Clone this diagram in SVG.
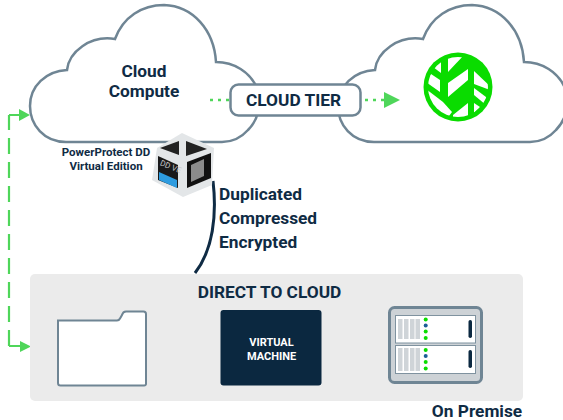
<svg xmlns="http://www.w3.org/2000/svg" width="563" height="420" viewBox="0 0 563 420">
<style>
text{font-family:Roboto,"Liberation Sans",sans-serif;font-weight:700;fill:#0f2b44}
.cloud{fill:#fff;stroke:#6f8594;stroke-width:2.5}
.g{fill:none;stroke:#4fd65a}
.gh{fill:#4fd65a}
.bar{fill:#cfd4d8}
.on{fill:#0adc00}
.bl{fill:#1d5d96}
.h{fill:#0b2840}
</style>
<defs>
<path id="c" d="M66,142 C44,142 30,125 30,106 C30,86 46,71 67,70 C69,52 90,35 115,39 C123,17 142,5 164,5 C193,6 214,30 216,62 C234,62 250,72 257,88 C262,105 258,120 248,130 C240,139 232,142 222,142 Z"/>
<clipPath id="lc"><circle cx="458" cy="87" r="30"/></clipPath>
</defs>
<g id="cloud-compute"><use href="#c" class="cloud"/>
<text x="144" y="77" font-size="17.300" text-anchor="middle">Cloud</text>
<text x="144" y="97" font-size="17.300" text-anchor="middle">Compute</text></g>
<g id="cloud-wasabi"><use href="#c" x="308" class="cloud"/>
<circle cx="458" cy="87" r="34.500" fill="#0adc00"/>
<g clip-path="url(#lc)" fill="#fff">
<path d="M433,63L441,60V73L433,67Z"/>
<path d="M448,55L464,55L448,72Z"/>
<path d="M428,72L440,80V92L426,82Z"/>
<path d="M448,83L468,69V80L448,97Z"/>
<path d="M474,71L490,86V90L474,84Z"/>
<path d="M426,89L443,102L452,112L446,120L426,105Z"/>
<path d="M453,115L468,103V120H453Z"/>
<path d="M474,88L490,100L486,105L474,95Z"/>
<path d="M474,103L480,107L474,113Z"/>
</g></g>
<g id="connectors">
<path class="g" stroke-width="2.5" stroke-dasharray="3 5" d="M210,100H229"/>
<path class="g" stroke-width="2.5" stroke-dasharray="3 5" d="M365,100H384"/>
<path class="gh" d="M384,92L400,100L384,108Z"/>
<path class="g" stroke-width="2.2" stroke-dasharray="16 8" d="M9,346V115"/>
<path class="g" stroke-width="2.2" d="M9,115H20M9,346H20"/>
<path class="gh" d="M19,109L30,115L19,121Z"/>
<path class="gh" d="M20,341L31,346.500L20,352Z"/>
<path d="M213,181C217,215 213,250 195,273" fill="none" stroke="#0f2b44" stroke-width="3"/>
</g>
<g id="cloud-tier"><rect x="230.500" y="84.500" width="130" height="31" rx="8" fill="#fff" stroke="#6f8594" stroke-width="2.500"/>
<text x="293.500" y="106" font-size="17.300" text-anchor="middle">CLOUD TIER</text></g>
<g id="dd-ve">
<path d="M182,133L214,148L212,185L183,197L152,180L157,148Z" fill="#e3e6e8"/>
<path d="M160,148L179,141V155Z" fill="#222"/>
<path d="M186,141L207,149L186,156Z" fill="#222"/>
<path d="M158,156L178,165V188L158,180Z" fill="#1a1a1a"/>
<path d="M159,172L177,180V188L159,180Z" fill="#2e9ce0"/>
<path d="M187,162L211,153V178L187,188Z" fill="#111"/>
<path d="M191,165L204,159V176L191,182Z" fill="#8c8c8c"/>
<text x="0" y="0" font-size="8" transform="translate(159.500,165) rotate(22)" style="fill:#c8c8c8;font-weight:400">DD VE</text>
<text x="106" y="156" font-size="11.500" text-anchor="middle">PowerProtect DD</text>
<text x="106" y="170" font-size="11.500" text-anchor="middle">Virtual Edition</text>
</g>
<g id="labels"><text x="219" y="200" font-size="17.300">Duplicated</text>
<text x="219" y="224" font-size="17.300">Compressed</text>
<text x="219" y="248" font-size="17.300">Encrypted</text></g>
<g id="on-premise"><rect x="30" y="274" width="493" height="127" rx="5" fill="#ebebeb"/>
<text x="269.500" y="298" font-size="17.300" text-anchor="middle">DIRECT TO CLOUD</text>
<text x="477" y="417" font-size="17.300" text-anchor="middle">On Premise</text></g>
<g id="folder"><path d="M58,320.500V383A2.500,2.500 0 0 0 60.500,385.500H144A2,2 0 0 0 146,383V314A2.500,2.500 0 0 0 143.500,311.500H126Q123,311.500 122,315L120,318.500Q119,320.500 117,320.500Z" fill="#fff" stroke="#6f8594" stroke-width="2"/></g>
<g id="vm"><rect x="220.500" y="310" width="101" height="75.500" rx="3" fill="#0b2840"/>
<text x="271.500" y="346" font-size="11" text-anchor="middle" style="fill:#fff">VIRTUAL</text>
<text x="271.500" y="360" font-size="11" text-anchor="middle" style="fill:#fff">MACHINE</text></g>
<g id="server"><rect x="389.500" y="307.500" width="92" height="75" rx="5" fill="#cdd2d6" stroke="#6f8594" stroke-width="3"/>
<rect x="395.500" y="315.500" width="80" height="27.500" fill="#fff" stroke="#7f929f"/>
<rect x="395.500" y="345.500" width="80" height="28" fill="#fff" stroke="#7f929f"/>
<g class="bar"><rect x="398" y="319" width="4.500" height="20"/><rect x="404" y="319" width="4.500" height="20"/><rect x="410" y="319" width="4.500" height="20"/><rect x="415.500" y="319" width="4.500" height="20"/>
<rect x="398" y="348" width="4.500" height="23"/><rect x="404" y="348" width="4.500" height="23"/><rect x="410" y="348" width="4.500" height="23"/><rect x="415.500" y="348" width="4.500" height="23"/></g>
<circle class="on" cx="425.700" cy="319.500" r="2"/><circle class="bl" cx="425.700" cy="325.500" r="2"/><circle class="on" cx="425.700" cy="331.500" r="2"/><circle class="on" cx="425.700" cy="338" r="2"/>
<circle class="on" cx="425.700" cy="350" r="2"/><circle class="bl" cx="425.700" cy="356" r="2"/><circle class="on" cx="425.700" cy="362" r="2"/><circle class="on" cx="425.700" cy="368.500" r="2"/>
<rect class="h" x="468.500" y="320" width="3.500" height="18" rx="1.700"/><rect class="h" x="468.500" y="350" width="3.500" height="18" rx="1.700"/></g>
</svg>
